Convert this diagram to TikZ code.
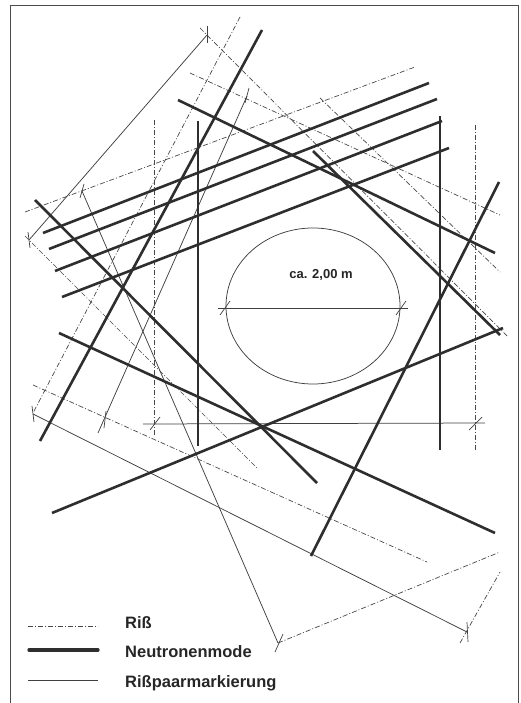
\documentclass[tikz,border=0pt]{standalone}
\usepackage{fontspec}
\setmainfont{Liberation Sans}
\begin{document}
\begin{tikzpicture}[x=1pt,y=-1pt,
  riss/.style={draw=black!72, line width=0.7pt, dash pattern=on 5pt off 2pt on 1pt off 2pt},
  mode/.style={draw=black!82, line width=2.6pt},
  paar/.style={draw=black!75, line width=0.75pt},
  tickmark/.style={draw=black!75, line width=0.7pt},
  lbl/.style={font=\bfseries\fontsize{16.5}{18}\selectfont, anchor=base west, inner sep=0pt, text=black!85}]
\useasboundingbox (0,0) rectangle (521,703);
% frame
\draw[line width=1pt, black!70] (10,704) -- (10,6) -- (518,6) -- (518,704);

% Riss (dash-dot)
\draw[riss] (154,120) -- (154,437);
\draw[riss] (475,125) -- (475,450);
\draw[riss] (240,17) -- (33,413);
\draw[riss] (25,212) -- (415,67);
\draw[riss] (200,28) -- (508,337);
\draw[riss] (190,73) -- (500,215);
\draw[riss] (320,98) -- (500,272);
\draw[riss] (33,385) -- (427,562);
\draw[riss] (278,643) -- (500,552);
\draw[riss] (460,643) -- (500,572);
\draw[riss] (25,236) -- (257,468);

% Risspaarmarkierung (thin)
\draw[paar] (207,35) -- (29,240);
\draw[paar] (82,191) -- (278,643);
\draw[paar] (247,96) -- (98,433);
\draw[paar] (143,424) -- (485,423);
\draw[paar] (218,308) -- (408,308);
\draw[paar] (33,414) -- (467,632);
\draw[paar] (313,306) ellipse [x radius=87pt, y radius=78pt];

% tick marks
\draw[tickmark] (207,26) -- (207,43);
\draw[tickmark] (28,232) -- (30,248);
\draw[tickmark] (80,198) -- (84,184);
\draw[tickmark] (245,103) -- (249,88);
\draw[tickmark] (104,428) -- (106,411);
\draw[tickmark] (32,406) -- (34,422);
\draw[tickmark] (150,430) -- (160,417);
\draw[tickmark] (469,430) -- (482,417);
\draw[tickmark] (220,315) -- (230,301);
\draw[tickmark] (396,315) -- (406,301);
\draw[tickmark] (275,652) -- (283,634);
\draw[tickmark] (467,622) -- (468,642);

% Neutronenmode (thick)
\draw[mode] (262,30) -- (40,441);
\draw[mode] (198,121) -- (198,446);
\draw[mode] (440,116) -- (440,450);
\draw[mode] (43,233) -- (429,83);
\draw[mode] (49,249) -- (437,99);
\draw[mode] (55,271) -- (442,121);
\draw[mode] (62,297) -- (449,148);
\draw[mode] (35,200) -- (317,483);
\draw[mode] (59,333) -- (495,533);
\draw[mode] (52,513) -- (503,328);
\draw[mode] (311,556) -- (499,182);
\draw[mode] (178,100) -- (495,253);
\draw[mode] (313,151) -- (500,335);

% diameter label
\node[font=\bfseries\fontsize{13}{15}\selectfont, text=black!85, inner sep=0pt] (dia) at (321,275) {ca. 2,00 m};

% legend
\draw[riss] (28,626) -- (98,626);
\draw[mode, line width=3.3pt, line cap=round] (29,650) -- (98,650);
\draw[paar] (28,680) -- (98,680);
\node[lbl] (lriss) at (125,628) {Riß};
\node[lbl] (lmode) at (125,657) {Neutronenmode};
\node[lbl] (lpaar) at (125,687) {Rißpaarmarkierung};
\end{tikzpicture}
\end{document}
